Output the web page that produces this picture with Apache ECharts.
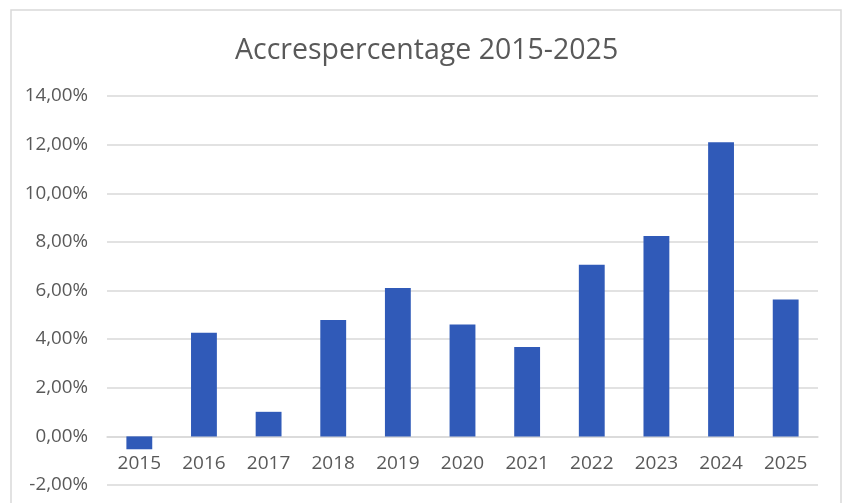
<!DOCTYPE html>
<html>
<head>
<meta charset="utf-8">
<script src="https://cdn.jsdelivr.net/npm/echarts@6/dist/echarts.min.js"></script>
<style>
html,body{margin:0;padding:0;background:#fff;}
#main{width:843px;height:503px;}
</style>
</head>
<body>
<div id="main"></div>
<script>
const titleText = 'Accrespercentage 2015-2025';
const years = ['2015','2016','2017','2018','2019','2020','2021','2022','2023','2024','2025'];
const accresPct = [-0.53, 4.26, 1.01, 4.79, 6.10, 4.60, 3.68, 7.06, 8.24, 12.10, 5.63];
const yMin = -2, yMax = 14, yStep = 2;

const chart = echarts.init(document.getElementById('main'), null, {renderer:'canvas'});
const textColor = '#595959';
const gridColor = '#d9d9d9';
const gridTop = 96, gridBottom = 18, H = 503;
const plotH = H - gridTop - gridBottom;
const zeroOffset = -plotH * (0 - yMin) / (yMax - yMin);
chart.setOption({
  animation: false,
  backgroundColor: '#ffffff',
  graphic: [{
    type: 'rect',
    shape: {x: 11, y: 10, width: 830, height: 520},
    style: {fill: 'none', stroke: '#d9d9d9', lineWidth: 1.5},
    silent: true
  }],
  title: {
    text: titleText,
    left: 230,
    top: 31,
    textStyle: {fontFamily: 'Open Sans', fontSize: 28.5, fontWeight: 'normal', color: textColor}
  },
  grid: {left: 107, right: 25, top: gridTop, bottom: gridBottom, containLabel: false, outerBoundsMode: 'none'},
  xAxis: {
    type: 'category',
    data: years,
    offset: zeroOffset,
    axisLine: {onZero: false, lineStyle: {color: gridColor, width: 1.5}},
    axisTick: {show: false},
    axisLabel: {fontFamily: 'Open Sans', fontSize: 19, color: textColor, margin: 18}
  },
  yAxis: {
    type: 'value',
    min: yMin, max: yMax, interval: yStep,
    axisLine: {show: false},
    axisTick: {show: false},
    splitLine: {lineStyle: {color: gridColor, width: 1.5}},
    axisLabel: {
      fontFamily: 'Open Sans', fontSize: 18.8, color: textColor, margin: 19,
      formatter: v => v.toFixed(2).replace('.', ',') + '%'
    }
  },
  series: [{
    type: 'bar',
    data: accresPct,
    barWidth: '40%',
    itemStyle: {color: '#305ab8'}
  }]
});
</script>
</body>
</html>
